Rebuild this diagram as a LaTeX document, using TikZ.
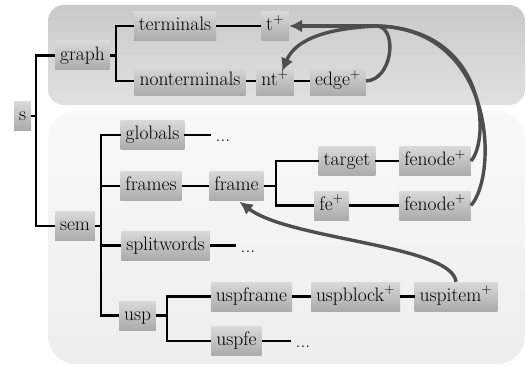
\documentclass[tikz,border=0pt]{standalone}
\usepackage{tikz}
\usetikzlibrary{arrows.meta,positioning}
\tikzset{>=latex}
\definecolor{refgray}{RGB}{78,78,78}
\tikzstyle{box}=[rectangle,top color=gray!30,middle color=gray!8,bottom color=gray!66,
  minimum height=29pt,text height=13.5pt,text depth=4pt,inner xsep=5pt,
  font=\fontsize{19.5}{23}\selectfont]
\tikzstyle{etc}=[inner xsep=4pt,text height=13.5pt,text depth=4pt,
  font=\fontsize{19.5}{23}\selectfont]
\tikzstyle{tree}=[line width=2.2pt,black]
\tikzstyle{ref}=[line width=3.4pt,refgray,-{Latex[length=13pt,width=13pt]}]
\tikzstyle{refline}=[line width=3.4pt,refgray]
\newcommand{\pl}{\textsuperscript{+}}

\begin{document}
\begin{tikzpicture}[x=1pt,y=-1pt]
  \useasboundingbox (0,0) rectangle (526,366);
  % the two regions
  \shade[rounded corners=16pt,top color=gray!42,middle color=gray!14,bottom color=gray!24]
    (48,5) rectangle (525,105);
  \shade[rounded corners=28pt,top color=gray!5,bottom color=gray!14]
    (48,111) rectangle (525,364);

  \path (22.5,116) node (s) [box] {s};

  % graph part
  \path (82.5,55.5) node (graph) [box] {graph};
  \path (175,26) node (terminals) [box] {terminals};
  \path (190,81) node (nonterminals) [box] {nonterminals};
  \path (275,26) node (tp) [box] {t\pl};
  \path (275,81) node (ntp) [box] {nt\pl};
  \path (338,81) node (edgep) [box] {edge\pl};

  % sem part
  \path (75,226) node (sem) [box] {sem};
  \path (152.5,135) node (globals) [box] {globals};
  \path (223,137) node (dotsA) [etc] {...};
  \path (151,186) node (frames) [box] {frames};
  \path (236.5,186) node (frame) [box] {frame};
  \path (347,161) node (target) [box] {target};
  \path (435,161) node (fnA) [box] {fenode\pl};
  \path (331.5,205.5) node (fep) [box] {fe\pl};
  \path (435,205.5) node (fnB) [box] {fenode\pl};
  \path (165.5,245.5) node (splitwords) [box] {splitwords};
  \path (248,247.5) node (dotsB) [etc] {...};
  \path (137.5,315.5) node (usp) [box] {usp};
  \path (251.5,296.5) node (uspframe) [box] {uspframe};
  \path (355.5,296.5) node (uspblock) [box] {uspblock\pl};
  \path (456,296.5) node (uspitem) [box] {uspitem\pl};
  \path (236.5,341) node (uspfe) [box] {uspfe};
  \path (303,343) node (dotsC) [etc] {...};

  % tree lines
  \draw[tree] (s.east) -- ++(5,0) |- (graph.west);
  \draw[tree] (s.east) -- ++(5,0) |- (sem.west);
  \draw[tree] (graph.east) -- ++(6,0) |- (terminals.west);
  \draw[tree] (graph.east) -- ++(6,0) |- (nonterminals.west);
  \draw[tree] (terminals) -- (tp);
  \draw[tree] (nonterminals) -- (ntp);
  \draw[tree] (ntp) -- (edgep);

  \draw[tree] (sem.east) -- ++(6,0) |- (globals.west);
  \draw[tree] (sem.east) -- ++(6,0) |- (frames.west);
  \draw[tree] (sem.east) -- ++(6,0) |- (splitwords.west);
  \draw[tree] (sem.east) -- ++(6,0) |- (usp.west);
  \draw[tree] (globals.east) -- (globals.east -| dotsA.west);
  \draw[tree] (frames) -- (frame);
  \draw[tree] (frame.east) -- ++(12,0) |- (target.west);
  \draw[tree] (frame.east) -- ++(12,0) |- (fep.west);
  \draw[tree] (target) -- (fnA);
  \draw[tree] (fep) -- (fnB);
  \draw[tree] (splitwords.east) -- (splitwords.east -| dotsB.west);
  \draw[tree] (usp.east) -- ++(11,0) |- (uspframe.west);
  \draw[tree] (usp.east) -- ++(11,0) |- (uspfe.west);
  \draw[tree] (uspframe) -- (uspblock);
  \draw[tree] (uspblock) -- (uspitem);
  \draw[tree] (uspfe.east) -- (uspfe.east -| dotsC.west);

  % references
  \coordinate (hub) at (378,26);
  \draw[refline] (edgep.east) .. controls (392,80) and (398,30) .. (hub);
  \draw[refline] (fnA.east) .. controls (490,140) and (488,30) .. (hub);
  \draw[refline] (fnB.east) .. controls (498,175) and (496,30) .. (hub);
  \draw[ref] (hub) -- (tp.east);
  \draw[ref] (hub) .. controls (330,28) and (296,38) .. ([xshift=7pt,yshift=-5pt]ntp.north);
  \draw[ref] (uspitem.north) .. controls (452,245) and (290,240) .. ([xshift=3pt,yshift=-1pt]frame.south);
\end{tikzpicture}
\end{document}
